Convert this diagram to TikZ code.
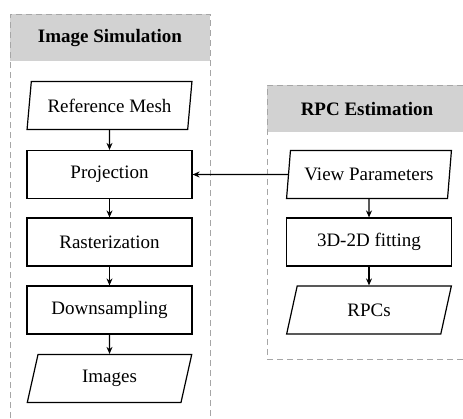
\documentclass[tikz,border=0pt]{standalone}
\usepackage{fontspec}
\setmainfont{Liberation Serif}
\usetikzlibrary{shapes.geometric, arrows.meta}

\begin{document}
\begin{tikzpicture}[x=1pt, y=-1pt,
  every node/.style={font=\fontsize{19}{22}\selectfont},
  proc/.style={draw=black, line width=1.2pt, minimum width=165pt, minimum height=48pt, inner sep=0pt},
  io/.style={trapezium, trapezium left angle=76, trapezium right angle=104, trapezium stretches=true,
             draw=black, line width=1.2pt, minimum width=165pt, minimum height=48pt, inner sep=0pt},
  flow/.style={line width=1.2pt, -{Stealth[length=7pt, width=6pt]}},
  frame/.style={draw=gray!70, line width=1pt, dash pattern=on 6pt off 4pt}]
\useasboundingbox (0,0) rectangle (463,418);

% panel frames
\fill[gray!35] (10,14) rectangle (210,61);
\draw[frame] (10,418) -- (10,14) -- (210,14) -- (210,418);
\fill[gray!35] (267,85) rectangle (463,132);
\draw[frame] (463,359) -- (267,359) -- (267,85) -- (463,85);

\node[font=\fontsize{19}{22}\selectfont\bfseries] (simtitle) at (110,38) {Image Simulation};
\node[font=\fontsize{19}{22}\selectfont\bfseries] (rpctitle) at (367,109) {RPC Estimation};

% image simulation
\node[io]   (mesh)   at (109.5,105.5) {Reference Mesh};
\node[proc] (proj)   at (109.5,174.5) {Projection};
\node[proc] (raster) at (109.5,242)   {Rasterization};
\node[proc] (down)   at (109.5,310)   {Downsampling};
\node[io]   (imgs)   at (109.5,378.5) {Images};

% rpc estimation
\node[io]   (view) at (369,174.5) {View Parameters};
\node[proc] (fit)  at (369,242)   {3D-2D fitting};
\node[io]   (rpcs) at (369,310)   {RPCs};

\draw[flow] (mesh) -- (proj);
\draw[flow] (proj) -- (raster);
\draw[flow] (raster) -- (down);
\draw[flow] (down) -- (imgs);
\draw[flow] (view) -- (fit);
\draw[flow] (fit) -- (rpcs);
\draw[flow] (view) -- (proj);
\end{tikzpicture}
\end{document}
